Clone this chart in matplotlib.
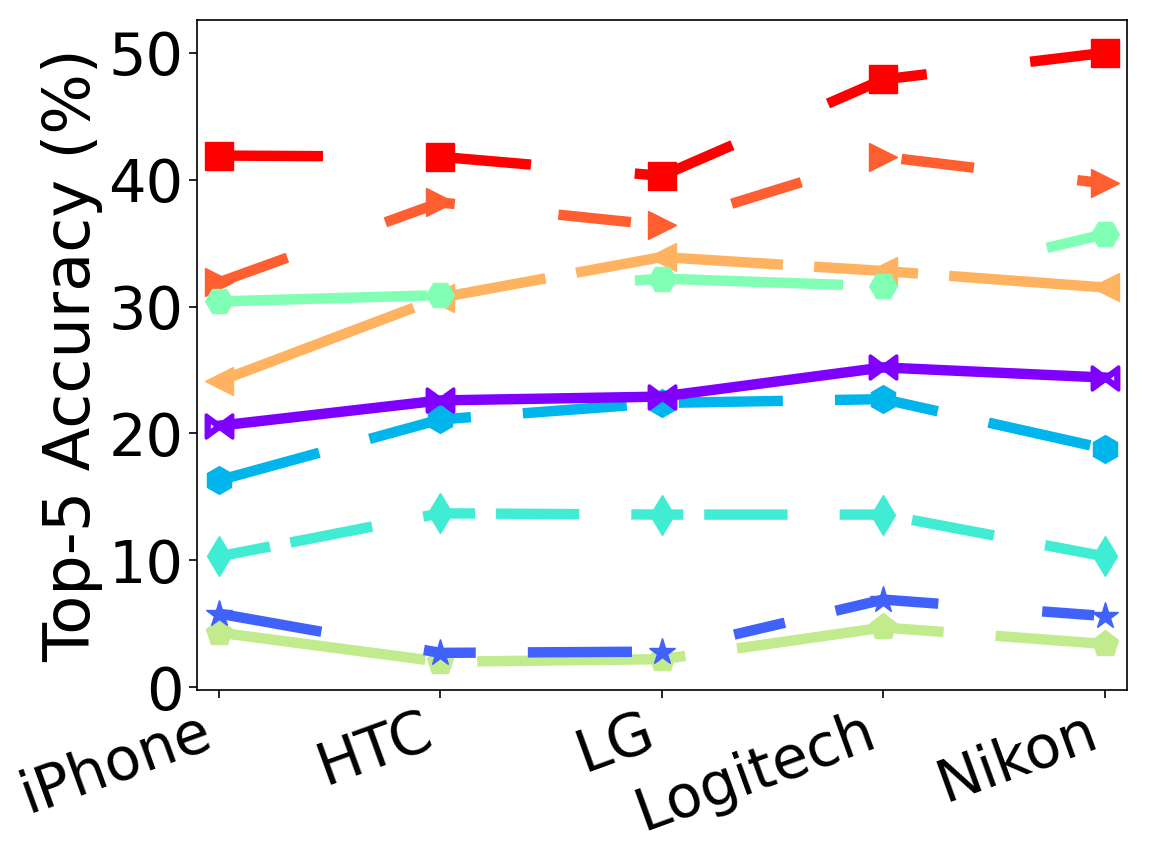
import matplotlib
matplotlib.use("Agg")
import matplotlib.pyplot as plt
import numpy as np

devices = ['iPhone', 'HTC', 'LG', 'Logitech', 'Nikon']

s_purple = [20.6, 22.6, 22.9, 25.2, 24.4]
s_blue = [5.8, 2.7, 2.8, 6.9, 5.6]
s_lightblue = [16.3, 21.1, 22.4, 22.7, 18.8]
s_turq = [10.3, 13.7, 13.6, 13.6, 10.3]
s_lightgreen = [30.4, 30.9, 32.2, 31.6, 35.7]
s_yellowgreen = [4.3, 2.0, 2.2, 4.7, 3.4]
s_orange = [24.1, 30.7, 33.9, 32.8, 31.5]
s_orangered = [31.9, 38.2, 36.4, 41.8, 39.7]
s_red = [41.9, 41.8, 40.3, 47.9, 50.0]

series = [s_purple, s_blue, s_lightblue, s_turq, s_lightgreen,
          s_yellowgreen, s_orange, s_orangered, s_red]
markers = [r'$\bowtie$', '*', 'h', 'd', 'H', 'p', '<', '>', 's']
dashes = [None, (10, 10, 5, 5), (10, 5), (5, 2, 8, 5), (20, 20),
          (20, 5), (20, 3, 10, 3), (7, 10), (10, 10)]

colors = plt.cm.rainbow(np.linspace(0, 1, len(series)))

fig = plt.figure(figsize=(11.5, 8.61), dpi=100)
ax = fig.add_axes([0.171, 0.199, 0.809, 0.778])

x = np.arange(len(devices))
for i in reversed(range(len(series))):
    kw = dict(color=colors[i], marker=markers[i], markersize=20, linewidth=7.5,
              markeredgecolor=colors[i])
    if markers[i].startswith('$'):
        kw['markersize'] = 19
        kw['markeredgewidth'] = 2.5
    line, = ax.plot(x, series[i], **kw)
    if dashes[i] is not None:
        line.set_dashes(dashes[i])

ax.set_xlim(-0.1, 4.1)
ax.set_ylim(-0.2, 52.6)
ax.set_yticks([0, 10, 20, 30, 40, 50])
ax.set_xticks(x)
ax.set_xticklabels(devices, rotation=20, ha='right', fontsize=42.5)
ax.tick_params(axis='y', labelsize=42.5, length=6, width=1.2)
ax.tick_params(axis='x', length=6, width=1.2)
ax.set_ylabel('Top-5 Accuracy (%)', fontsize=46)
for sp in ax.spines.values():
    sp.set_linewidth(1.2)

fig.savefig('out.png', dpi=100)
